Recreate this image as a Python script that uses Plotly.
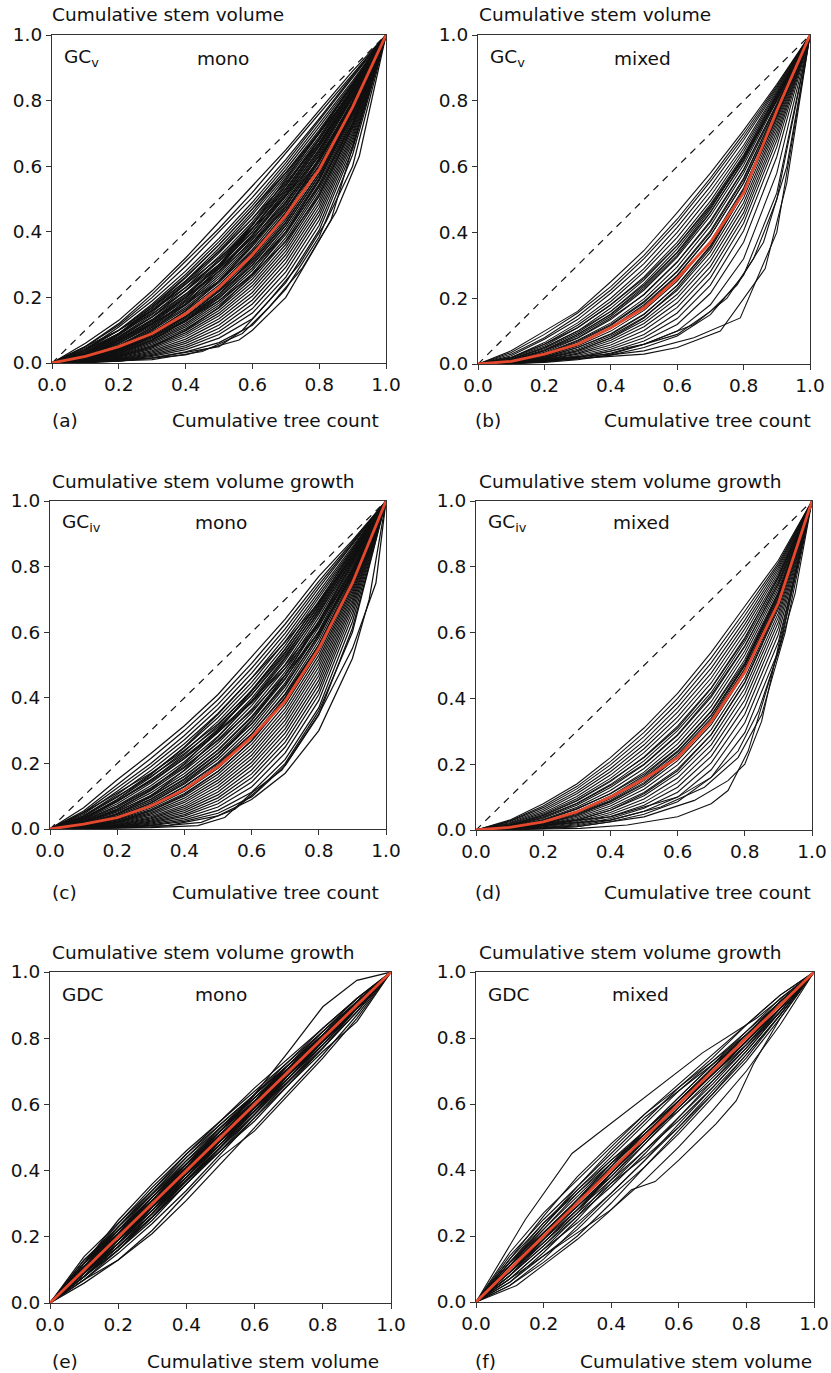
import plotly.graph_objects as go

W, H = 831, 1373

# ---------------------------------------------------------------- data
# common abscissa for the Lorenz-type curves (cumulative share)
X_GRID = [0, 0.1, 0.2, 0.3, 0.4, 0.5, 0.6, 0.7, 0.8, 0.9, 1.0]

# (a) Gini curve of stem volume, monospecific stands
GCV_MONO = [
    [0, .06, .13, .22, .32, .43, .54, .65, .77, .89, 1],
    [0, .05, .12, .21, .31, .41, .52, .64, .76, .88, 1],
    [0, .05, .115, .2, .295, .4, .505, .62, .745, .875, 1],
    [0, .04, .11, .19, .28, .38, .49, .61, .74, .87, 1],
    [0, .045, .1, .18, .27, .37, .48, .6, .73, .86, 1],
    [0, .04, .1, .175, .262, .36, .47, .59, .72, .855, 1],
    [0, .035, .09, .165, .25, .35, .46, .58, .71, .85, 1],
    [0, .03, .087, .16, .245, .342, .452, .572, .705, .848, 1],
    [0, .03, .085, .155, .24, .335, .44, .565, .70, .845, 1],
    [0, .032, .08, .148, .23, .325, .43, .555, .69, .84, 1],
    [0, .028, .078, .142, .222, .316, .423, .546, .684, .838, 1],
    [0, .025, .075, .14, .22, .31, .42, .54, .68, .835, 1],
    [0, .026, .072, .133, .21, .3, .41, .532, .672, .832, 1],
    [0, .025, .07, .13, .205, .295, .4, .525, .665, .83, 1],
    [0, .022, .066, .126, .198, .287, .392, .515, .66, .826, 1],
    [0, .02, .065, .122, .193, .28, .385, .508, .652, .82, 1],
    [0, .022, .061, .117, .186, .272, .376, .5, .645, .815, 1],
    [0, .02, .06, .113, .18, .265, .368, .492, .64, .812, 1],
    [0, .018, .055, .108, .176, .258, .362, .486, .634, .808, 1],
    [0, .016, .052, .104, .17, .25, .355, .476, .625, .8, 1],
    [0, .015, .05, .1, .165, .245, .346, .468, .618, .797, 1],
    [0, .015, .048, .095, .158, .238, .338, .46, .612, .793, 1],
    [0, .013, .046, .092, .152, .23, .33, .452, .604, .788, 1],
    [0, .012, .043, .088, .147, .224, .322, .444, .596, .784, 1],
    [0, .012, .04, .085, .142, .218, .315, .437, .59, .78, 1],
    [0, .011, .038, .081, .136, .21, .306, .427, .58, .775, 1],
    [0, .01, .036, .077, .131, .204, .298, .419, .572, .77, 1],
    [0, .01, .034, .074, .126, .197, .29, .41, .563, .765, 1],
    [0, .009, .031, .07, .12, .19, .282, .4, .555, .76, 1],
    [0, .008, .029, .066, .115, .183, .273, .392, .546, .754, 1],
    [0, .008, .027, .062, .11, .176, .264, .382, .537, .748, 1],
    [0, .007, .025, .058, .104, .168, .256, .373, .528, .742, 1],
    [0, .006, .023, .054, .098, .16, .246, .362, .518, .735, 1],
    [0, .006, .021, .05, .092, .152, .236, .352, .508, .728, 1],
    [0, .005, .019, .046, .086, .144, .226, .341, .497, .72, 1],
    [0, .004, .017, .042, .08, .135, .215, .33, .486, .712, 1],
    [0, .004, .015, .038, .073, .126, .204, .318, .474, .703, 1],
    [0, .003, .013, .034, .066, .116, .192, .305, .462, .694, 1],
    [0, .003, .012, .03, .06, .106, .18, .292, .45, .685, 1],
    [0, .002, .01, .026, .053, .096, .166, .278, .436, .675, 1],
    [0, .002, .009, .023, .047, .087, .152, .262, .42, .664, 1],
    [0, .002, .008, .02, .041, .076, .135, .245, .405, .652, 1],
    [0, .001, .006, .016, .034, .062, .115, .225, .385, .635, 1],
    [0, .05, .1, .16, .23, .31, .41, .53, .67, .83, 1],
    [0, .04, .09, .15, .22, .3, .4, .52, .66, .82, 1],
    [0, .01, .04, .1, .18, .28, .39, .51, .65, .81, 1],
    [0, .015, .05, .11, .19, .29, .41, .54, .68, .84, 1],
    [0, .03, .08, .14, .21, .29, .38, .49, .62, .78, 1],
    [0, .02, .07, .13, .2, .28, .37, .47, .6, .77, 1],
    [0, .01, .03, .07, .13, .21, .32, .46, .62, .8, 1],
    [0, .02, .06, .12, .2, .3, .42, .56, .7, .85, 1],
    [0, .03, .09, .17, .26, .36, .47, .58, .7, .83, 1],
    [0, .025, .07, .12, .18, .25, .34, .45, .59, .77, 1],
    [0, .015, .045, .09, .16, .25, .36, .48, .62, .79, 1],
    [0, .035, .09, .16, .24, .32, .41, .51, .63, .79, 1],
    [0, .02, .05, .09, .14, .21, .3, .42, .57, .77, 1],
    [0, .01, .035, .08, .14, .22, .31, .43, .58, .78, 1],
    [0, .04, .1, .17, .25, .34, .44, .55, .67, .81, 1],
    [0, .008, .03, .07, .13, .2, .29, .4, .54, .73, 1],
    [0, .012, .04, .08, .13, .19, .27, .37, .51, .72, 1],
    [0, .005, .02, .05, .1, .17, .27, .4, .56, .76, 1],
]
GCV_MONO_EXTRA = [
    ([0, .2, .4, .56, .6, .7, .775, .835, 1], [0, .006, .025, .07, .1, .2, .33, .435, 1]),
    ([0, .3, .45, .57, .65, .75, .85, .92, 1], [0, .01, .035, .09, .17, .29, .46, .63, 1]),
    ([0, .3, .5, .57, .65, .74, .82, .9, 1], [0, .015, .05, .1, .19, .3, .43, .6, 1]),
]
GCV_MONO_MEAN = [0, .02, .05, .09, .15, .23, .33, .45, .59, .78, 1]

# (b) Gini curve of stem volume, mixed stands
GCV_MIXED = [
    [0, .04, .1, .16, .25, .345, .46, .58, .71, .85, 1],
    [0, .035, .09, .155, .235, .33, .44, .565, .7, .845, 1],
    [0, .03, .08, .145, .225, .32, .43, .555, .69, .84, 1],
    [0, .025, .075, .135, .215, .305, .415, .54, .68, .835, 1],
    [0, .02, .065, .125, .2, .29, .4, .525, .665, .83, 1],
    [0, .02, .06, .118, .19, .28, .385, .51, .655, .825, 1],
    [0, .018, .055, .11, .18, .265, .37, .495, .645, .82, 1],
    [0, .015, .05, .1, .17, .255, .36, .485, .635, .815, 1],
    [0, .014, .047, .095, .16, .245, .35, .475, .625, .81, 1],
    [0, .012, .043, .09, .152, .235, .338, .462, .615, .805, 1],
    [0, .01, .04, .085, .145, .225, .325, .45, .605, .8, 1],
    [0, .01, .036, .078, .135, .212, .31, .435, .592, .79, 1],
    [0, .009, .033, .072, .125, .198, .295, .42, .58, .785, 1],
    [0, .008, .03, .066, .117, .187, .282, .405, .565, .778, 1],
    [0, .007, .027, .06, .108, .175, .268, .39, .55, .77, 1],
    [0, .006, .024, .055, .1, .163, .252, .372, .535, .76, 1],
    [0, .005, .021, .05, .092, .152, .238, .356, .52, .75, 1],
    [0, .005, .019, .045, .085, .142, .224, .34, .505, .74, 1],
    [0, .004, .017, .041, .078, .132, .212, .326, .49, .73, 1],
    [0, .004, .015, .037, .072, .123, .2, .312, .476, .72, 1],
    [0, .003, .013, .033, .065, .113, .186, .296, .46, .708, 1],
    [0, .003, .012, .03, .058, .102, .172, .28, .445, .695, 1],
    [0, .002, .01, .026, .051, .09, .155, .262, .428, .68, 1],
    [0, .002, .009, .022, .045, .08, .138, .24, .405, .66, 1],
    [0, .002, .008, .019, .039, .07, .12, .215, .37, .63, 1],
    [0, .001, .006, .016, .033, .06, .1, .18, .32, .58, 1],
    [0, .001, .005, .013, .027, .05, .085, .15, .27, .52, 1],
    [0, .02, .06, .11, .18, .26, .36, .48, .63, .8, 1],
    [0, .01, .04, .08, .14, .21, .31, .43, .59, .79, 1],
    [0, .012, .04, .09, .15, .23, .33, .46, .62, .81, 1],
    [0, .005, .02, .05, .09, .15, .24, .36, .53, .76, 1],
    [0, .008, .03, .07, .12, .19, .28, .4, .56, .78, 1],
    [0, .003, .015, .04, .08, .14, .23, .35, .52, .75, 1],
    [0, .015, .05, .1, .16, .24, .34, .47, .63, .82, 1],
    [0, .006, .025, .06, .11, .18, .27, .39, .55, .77, 1],
]
GCV_MIXED_EXTRA = [
    ([0, .31, .5, .6, .73, .865, .93, 1], [0, .017, .03, .05, .1, .29, .55, 1]),
    ([0, .3, .5, .65, .79, .9, 1], [0, .015, .04, .08, .14, .4, 1]),
    ([0, .3, .5, .65, .75, .83, .9, 1], [0, .02, .06, .12, .2, .32, .5, 1]),
    ([0, .4, .6, .7, .78, .86, .93, 1], [0, .03, .09, .16, .24, .37, .6, 1]),
]
GCV_MIXED_MEAN = [0, .008, .03, .06, .11, .17, .26, .37, .52, .77, 1]

# (c) Gini curve of stem volume growth, monospecific stands
GCIV_MONO = [
    [0, .065, .15, .23, .315, .41, .525, .64, .77, .88, 1],
    [0, .055, .135, .215, .3, .395, .505, .625, .755, .875, 1],
    [0, .05, .125, .2, .285, .38, .49, .61, .745, .87, 1],
    [0, .045, .115, .19, .272, .366, .475, .597, .735, .866, 1],
    [0, .04, .105, .178, .26, .352, .46, .584, .724, .86, 1],
    [0, .037, .097, .168, .248, .34, .447, .572, .714, .855, 1],
    [0, .033, .09, .158, .237, .328, .435, .56, .705, .85, 1],
    [0, .03, .083, .149, .226, .316, .423, .548, .695, .845, 1],
    [0, .028, .077, .14, .215, .305, .41, .536, .685, .84, 1],
    [0, .025, .071, .132, .205, .294, .398, .524, .675, .835, 1],
    [0, .023, .066, .124, .196, .283, .387, .513, .665, .83, 1],
    [0, .021, .061, .117, .187, .272, .376, .502, .655, .825, 1],
    [0, .019, .057, .11, .178, .262, .365, .49, .645, .82, 1],
    [0, .017, .052, .103, .169, .252, .354, .479, .635, .815, 1],
    [0, .016, .048, .097, .161, .242, .343, .468, .625, .81, 1],
    [0, .014, .045, .091, .153, .232, .332, .457, .615, .804, 1],
    [0, .013, .041, .085, .145, .222, .321, .446, .604, .798, 1],
    [0, .012, .038, .079, .137, .212, .31, .435, .594, .792, 1],
    [0, .011, .035, .074, .129, .203, .3, .424, .584, .786, 1],
    [0, .01, .032, .069, .122, .194, .289, .413, .573, .78, 1],
    [0, .009, .029, .064, .115, .185, .279, .402, .562, .773, 1],
    [0, .008, .027, .059, .108, .176, .268, .391, .552, .766, 1],
    [0, .007, .024, .055, .101, .167, .258, .38, .541, .759, 1],
    [0, .006, .022, .05, .094, .158, .247, .368, .53, .752, 1],
    [0, .006, .02, .046, .087, .149, .236, .356, .518, .744, 1],
    [0, .005, .018, .042, .081, .14, .225, .344, .506, .736, 1],
    [0, .004, .016, .038, .074, .131, .214, .332, .494, .728, 1],
    [0, .004, .014, .034, .068, .122, .203, .319, .481, .719, 1],
    [0, .003, .012, .031, .062, .113, .192, .306, .468, .71, 1],
    [0, .003, .011, .027, .056, .104, .18, .293, .454, .7, 1],
    [0, .002, .009, .024, .05, .095, .168, .279, .44, .69, 1],
    [0, .002, .008, .021, .044, .086, .156, .265, .425, .678, 1],
    [0, .002, .007, .018, .039, .077, .143, .25, .41, .665, 1],
    [0, .001, .006, .015, .033, .067, .128, .232, .392, .65, 1],
    [0, .001, .005, .012, .028, .057, .112, .212, .37, .632, 1],
    [0, .001, .004, .01, .023, .048, .098, .193, .348, .612, 1],
    [0, .05, .11, .17, .24, .32, .42, .54, .68, .84, 1],
    [0, .04, .1, .16, .23, .31, .41, .53, .67, .83, 1],
    [0, .012, .045, .1, .18, .28, .39, .52, .66, .82, 1],
    [0, .02, .06, .12, .2, .3, .42, .55, .69, .85, 1],
    [0, .035, .085, .145, .215, .295, .385, .49, .62, .79, 1],
    [0, .025, .07, .125, .19, .27, .36, .47, .6, .77, 1],
    [0, .01, .035, .08, .14, .22, .33, .47, .63, .81, 1],
    [0, .03, .09, .165, .25, .35, .46, .57, .69, .83, 1],
    [0, .02, .055, .1, .16, .24, .34, .46, .6, .78, 1],
    [0, .03, .085, .15, .22, .3, .39, .5, .63, .79, 1],
    [0, .015, .045, .09, .15, .23, .32, .44, .59, .78, 1],
    [0, .008, .03, .07, .13, .2, .29, .41, .56, .75, 1],
    [0, .006, .022, .055, .105, .175, .27, .4, .56, .76, 1],
]
GCIV_MONO_EXTRA = [
    ([0, .3, .44, .52, .6, .69, .8, .9, .97, 1], [0, .004, .01, .035, .11, .18, .35, .55, .75, 1]),
    ([0, .3, .45, .55, .62, .7, .8, .9, 1], [0, .006, .02, .06, .12, .2, .36, .6, 1]),
    ([0, .35, .5, .6, .7, .8, .9, .95, 1], [0, .01, .04, .09, .17, .3, .52, .7, 1]),
]
GCIV_MONO_MEAN = [0, .015, .035, .07, .12, .19, .28, .39, .55, .75, 1]

# (d) Gini curve of stem volume growth, mixed stands
GCIV_MIXED = [
    [0, .03, .08, .14, .22, .31, .415, .54, .68, .82, 1],
    [0, .027, .073, .132, .208, .297, .4, .523, .665, .812, 1],
    [0, .025, .068, .125, .198, .284, .386, .508, .652, .805, 1],
    [0, .022, .062, .117, .187, .271, .372, .492, .638, .798, 1],
    [0, .02, .057, .11, .177, .259, .358, .477, .625, .79, 1],
    [0, .018, .052, .102, .167, .247, .344, .462, .612, .782, 1],
    [0, .016, .048, .095, .157, .235, .33, .447, .598, .774, 1],
    [0, .014, .043, .088, .147, .222, .316, .432, .585, .766, 1],
    [0, .013, .04, .081, .138, .21, .302, .418, .572, .758, 1],
    [0, .011, .036, .075, .129, .198, .288, .404, .558, .75, 1],
    [0, .01, .032, .069, .12, .187, .275, .39, .545, .742, 1],
    [0, .009, .029, .063, .111, .176, .262, .376, .532, .733, 1],
    [0, .008, .026, .057, .103, .165, .249, .362, .518, .724, 1],
    [0, .007, .023, .052, .095, .155, .237, .348, .505, .715, 1],
    [0, .006, .02, .047, .087, .144, .224, .334, .491, .705, 1],
    [0, .005, .018, .042, .08, .134, .211, .32, .477, .695, 1],
    [0, .004, .016, .038, .073, .124, .198, .305, .462, .684, 1],
    [0, .004, .014, .034, .066, .114, .185, .29, .447, .672, 1],
    [0, .003, .012, .03, .06, .104, .172, .275, .431, .66, 1],
    [0, .003, .01, .026, .053, .094, .158, .259, .414, .647, 1],
    [0, .002, .009, .022, .047, .084, .144, .242, .395, .632, 1],
    [0, .002, .007, .019, .041, .075, .13, .224, .375, .615, 1],
    [0, .001, .006, .016, .035, .066, .115, .204, .352, .595, 1],
    [0, .001, .005, .013, .03, .057, .1, .183, .326, .572, 1],
    [0, .001, .004, .01, .025, .048, .086, .16, .296, .545, 1],
    [0, .015, .045, .09, .15, .22, .31, .43, .58, .77, 1],
    [0, .01, .03, .065, .11, .17, .25, .36, .51, .72, 1],
    [0, .008, .025, .055, .1, .16, .24, .35, .5, .71, 1],
    [0, .005, .018, .045, .085, .14, .22, .33, .49, .7, 1],
    [0, .012, .038, .08, .135, .2, .29, .41, .56, .75, 1],
    [0, .003, .012, .03, .06, .11, .18, .29, .45, .68, 1],
    [0, .006, .022, .05, .09, .15, .23, .34, .5, .72, 1],
]
GCIV_MIXED_EXTRA = [
    ([0, .31, .45, .6, .7, .75, .81, .86, .91, 1], [0, .005, .015, .04, .08, .12, .24, .41, .58, 1]),
    ([0, .3, .5, .65, .75, .8, .85, .9, 1], [0, .01, .04, .09, .15, .2, .33, .56, 1]),
    ([0, .4, .55, .68, .78, .85, .92, 1], [0, .03, .07, .13, .22, .35, .6, 1]),
    ([0, .4, .6, .7, .78, .84, .9, .95, 1], [0, .04, .1, .16, .24, .36, .54, .72, 1]),
]
GCIV_MIXED_MEAN = [0, .008, .025, .055, .1, .155, .22, .33, .48, .69, 1]

# (e) growth dominance curves, monospecific stands
GDC_MONO = [
    [0, .13, .23, .33, .44, .53, .63, .72, .82, .92, 1],
    [0, .12, .22, .32, .42, .52, .62, .71, .81, .91, 1],
    [0, .09, .18, .27, .37, .47, .57, .68, .78, .89, 1],
    [0, .08, .17, .27, .38, .48, .58, .67, .77, .88, 1],
    [0, .11, .21, .31, .41, .51, .61, .71, .8, .9, 1],
    [0, .1, .19, .29, .39, .49, .59, .69, .79, .89, 1],
    [0, .07, .15, .24, .34, .45, .56, .66, .77, .88, 1],
    [0, .12, .24, .35, .45, .55, .64, .73, .82, .91, 1],
    [0, .1, .2, .29, .4, .51, .6, .69, .79, .9, 1],
    [0, .08, .16, .25, .36, .47, .59, .7, .8, .9, 1],
    [0, .11, .2, .3, .41, .52, .62, .72, .81, .9, 1],
    [0, .09, .19, .3, .4, .49, .58, .68, .79, .9, 1],
    [0, .1, .21, .32, .42, .51, .6, .7, .8, .91, 1],
    [0, .09, .18, .28, .39, .5, .61, .71, .81, .9, 1],
    [0, .13, .22, .31, .4, .5, .61, .72, .82, .91, 1],
    [0, .07, .16, .26, .37, .47, .57, .67, .77, .89, 1],
    [0, .11, .22, .31, .39, .49, .6, .7, .79, .89, 1],
    [0, .09, .2, .31, .41, .5, .6, .7, .81, .91, 1],
    [0, .1, .18, .27, .38, .49, .59, .68, .78, .89, 1],
    [0, .12, .21, .3, .41, .52, .63, .73, .83, .92, 1],
    [0, .08, .18, .29, .4, .5, .59, .69, .8, .91, 1],
    [0, .1, .21, .31, .4, .49, .58, .69, .8, .9, 1],
    [0, .11, .19, .28, .38, .48, .58, .69, .8, .9, 1],
    [0, .09, .19, .29, .38, .49, .6, .71, .8, .89, 1],
    [0, .1, .2, .3, .41, .52, .61, .7, .79, .9, 1],
    [0, .08, .17, .26, .36, .46, .56, .67, .78, .89, 1],
    [0, .12, .23, .33, .42, .52, .61, .7, .8, .9, 1],
    [0, .1, .19, .28, .37, .47, .58, .69, .79, .89, 1],
    [0, .11, .21, .32, .43, .53, .62, .71, .81, .91, 1],
    [0, .09, .2, .3, .39, .48, .59, .7, .81, .9, 1],
    [0, .1, .2, .3, .41, .52, .63, .76, .895, .975, 1],
    [0, .08, .17, .27, .37, .46, .55, .66, .76, .85, 1],
    [0, .06, .13, .22, .33, .44, .52, .63, .74, .86, 1],
    [0, .14, .24, .34, .45, .54, .63, .72, .81, .9, 1],
    [0, .07, .13, .21, .31, .42, .53, .64, .75, .87, 1],
    [0, .12, .25, .36, .46, .55, .65, .74, .83, .92, 1],
    [0, .1, .21, .31, .41, .5, .6, .7, .8, .9, 1],
    [0, .11, .2, .3, .4, .5, .61, .71, .81, .9, 1],
    [0, .09, .2, .3, .4, .51, .6, .69, .79, .9, 1],
    [0, .1, .19, .3, .41, .5, .59, .7, .81, .91, 1],
    [0, .1, .2, .31, .4, .49, .6, .71, .8, .89, 1],
    [0, .11, .21, .3, .39, .49, .59, .69, .8, .9, 1],
    [0, .09, .19, .29, .4, .51, .61, .7, .79, .89, 1],
    [0, .1, .2, .29, .39, .5, .61, .71, .8, .9, 1],
    [0, .11, .22, .32, .41, .5, .59, .69, .79, .9, 1],
    [0, .09, .18, .29, .39, .49, .6, .7, .8, .91, 1],
    [0, .1, .21, .3, .39, .48, .59, .7, .8, .9, 1],
    [0, .12, .22, .31, .41, .51, .6, .7, .79, .89, 1],
    [0, .08, .18, .28, .39, .5, .6, .7, .81, .9, 1],
    [0, .1, .2, .3, .42, .53, .62, .71, .8, .9, 1],
    [0, .11, .2, .29, .38, .48, .58, .68, .79, .9, 1],
    [0, .09, .2, .31, .42, .51, .6, .69, .8, .91, 1],
    [0, .1, .22, .33, .43, .52, .61, .71, .81, .91, 1],
    [0, .09, .17, .26, .37, .48, .58, .69, .8, .9, 1],
    [0, .11, .23, .34, .44, .54, .63, .72, .81, .9, 1],
    [0, .08, .16, .26, .36, .46, .57, .68, .79, .9, 1],
]
GDC_MONO_EXTRA = []

# (f) growth dominance curves, mixed stands
GDC_MIXED = [
    [0, .15, .27, .37, .47, .57, .66, .75, .84, .93, 1],
    [0, .14, .25, .35, .45, .55, .65, .74, .84, .93, 1],
    [0, .12, .23, .34, .44, .54, .64, .73, .82, .92, 1],
    [0, .13, .24, .33, .43, .52, .62, .72, .82, .91, 1],
    [0, .11, .22, .32, .42, .52, .61, .71, .81, .91, 1],
    [0, .1, .21, .31, .41, .51, .61, .71, .8, .9, 1],
    [0, .12, .21, .3, .4, .5, .6, .7, .8, .91, 1],
    [0, .09, .19, .29, .39, .5, .6, .7, .8, .9, 1],
    [0, .1, .2, .29, .38, .48, .59, .69, .79, .9, 1],
    [0, .08, .18, .28, .38, .49, .59, .69, .79, .89, 1],
    [0, .09, .2, .31, .42, .51, .6, .69, .78, .88, 1],
    [0, .07, .16, .26, .37, .48, .58, .68, .78, .89, 1],
    [0, .08, .17, .26, .35, .45, .56, .67, .78, .89, 1],
    [0, .06, .15, .25, .36, .46, .56, .66, .77, .88, 1],
    [0, .07, .16, .24, .33, .43, .54, .65, .76, .88, 1],
    [0, .05, .13, .23, .33, .43, .53, .64, .75, .87, 1],
    [0, .06, .14, .22, .32, .41, .52, .63, .75, .87, 1],
    [0, .05, .12, .2, .3, .41, .51, .62, .73, .86, 1],
    [0, .11, .23, .35, .46, .56, .64, .72, .8, .9, 1],
    [0, .13, .26, .38, .48, .57, .65, .73, .81, .9, 1],
    [0, .1, .19, .28, .37, .46, .55, .65, .76, .88, 1],
    [0, .12, .22, .33, .42, .5, .58, .67, .77, .89, 1],
    [0, .09, .18, .27, .36, .44, .53, .63, .74, .87, 1],
    [0, .08, .19, .3, .41, .52, .62, .72, .81, .9, 1],
    [0, .11, .2, .29, .39, .49, .6, .71, .81, .91, 1],
    [0, .07, .14, .21, .28, .37, .47, .58, .7, .84, 1],
    [0, .1, .21, .3, .4, .49, .59, .69, .79, .9, 1],
    [0, .09, .19, .3, .41, .51, .6, .7, .8, .9, 1],
    [0, .11, .21, .31, .4, .5, .6, .7, .8, .91, 1],
    [0, .1, .2, .31, .42, .52, .61, .7, .79, .89, 1],
    [0, .09, .18, .28, .39, .5, .61, .71, .81, .91, 1],
    [0, .12, .24, .34, .43, .51, .6, .7, .8, .9, 1],
    [0, .08, .17, .27, .39, .5, .6, .69, .79, .9, 1],
]
GDC_MIXED_EXTRA = [
    ([0, .146, .284, .41, .51, .67, .83, 1], [0, .25, .45, .55, .63, .755, .86, 1]),
    ([0, .12, .21, .3, .39, .46, .53, .6, .71, .77, .82, .9, 1],
     [0, .05, .12, .19, .27, .34, .365, .43, .54, .61, .72, .86, 1]),
]
EQUALITY = [0, 1]

# ---------------------------------------------------------------- panels
# pixel boxes of the six plot areas: left, right, top, bottom
PANELS = [
    dict(box=(52, 386, 35, 363), curves=GCV_MONO, extra=GCV_MONO_EXTRA,
         mean=(X_GRID, GCV_MONO_MEAN), diag=True, lw=1.25),
    dict(box=(478, 810, 35, 364), curves=GCV_MIXED, extra=GCV_MIXED_EXTRA,
         mean=(X_GRID, GCV_MIXED_MEAN), diag=True, lw=1.1),
    dict(box=(50, 386, 501, 829), curves=GCIV_MONO, extra=GCIV_MONO_EXTRA,
         mean=(X_GRID, GCIV_MONO_MEAN), diag=True, lw=1.25),
    dict(box=(476, 812, 501, 830), curves=GCIV_MIXED, extra=GCIV_MIXED_EXTRA,
         mean=(X_GRID, GCIV_MIXED_MEAN), diag=True, lw=1.1),
    dict(box=(50, 391, 972, 1303), curves=GDC_MONO, extra=GDC_MONO_EXTRA,
         mean=(EQUALITY, EQUALITY), diag=False, lw=1.25),
    dict(box=(476, 814, 972, 1302), curves=GDC_MIXED, extra=GDC_MIXED_EXTRA,
         mean=(EQUALITY, EQUALITY), diag=False, lw=1.1),
]

FONT = "DejaVu Sans, Liberation Sans, Arial"
FS = 18.5
INK = "#111111"
RED = "#e5482c"

fig = go.Figure()
layout = {}

for i, p in enumerate(PANELS, start=1):
    xa = "x" if i == 1 else f"x{i}"
    ya = "y" if i == 1 else f"y{i}"
    # all individual stand curves as one trace separated by gaps
    xs, ys = [], []
    for c in p["curves"]:
        xs += X_GRID + [None]
        ys += c + [None]
    for ex, ey in p["extra"]:
        xs += ex + [None]
        ys += ey + [None]
    fig.add_trace(go.Scatter(x=xs, y=ys, mode="lines", xaxis=xa, yaxis=ya,
                             line=dict(color=INK, width=p["lw"]),
                             hoverinfo="skip", showlegend=False))
    if p["diag"]:
        fig.add_trace(go.Scatter(x=EQUALITY, y=EQUALITY, mode="lines",
                                 xaxis=xa, yaxis=ya,
                                 line=dict(color=INK, width=1.2, dash="7px,6px"),
                                 hoverinfo="skip", showlegend=False))
    mx, my = p["mean"]
    fig.add_trace(go.Scatter(x=mx, y=my, mode="lines", xaxis=xa, yaxis=ya,
                             line=dict(color=RED, width=2.8),
                             hoverinfo="skip", showlegend=False))

    l, r, t, b = p["box"]
    common = dict(range=[0, 1], showgrid=False, zeroline=False, showline=True,
                  mirror=True, linecolor="#333", linewidth=1.2,
                  ticks="outside", ticklen=5, tickcolor="#333", tickwidth=1,
                  tickvals=[0, .2, .4, .6, .8, 1.0], tickformat=".1f",
                  automargin=False,
                  tickfont=dict(family=FONT, size=FS, color=INK))
    layout["xaxis" if i == 1 else f"xaxis{i}"] = dict(
        domain=[l / W, r / W], anchor=ya, **common)
    layout["yaxis" if i == 1 else f"yaxis{i}"] = dict(
        domain=[1 - b / H, 1 - t / H], anchor=xa, **common)


def label(text, px, py, anchor="left"):
    return dict(text=text, x=px / W, y=1 - py / H, xref="paper", yref="paper",
                xanchor=anchor, yanchor="middle", showarrow=False,
                font=dict(family=FONT, size=FS, color=INK))


ann = [
    label("Cumulative stem volume", 50, 15),
    label("Cumulative stem volume", 477, 15),
    label("Cumulative stem volume growth", 50, 482),
    label("Cumulative stem volume growth", 477, 482),
    label("Cumulative stem volume growth", 50, 952),
    label("Cumulative stem volume growth", 477, 952),
    label("(a)", 50, 420), label("(b)", 473, 420),
    label("(c)", 50, 892), label("(d)", 473, 892),
    label("(e)", 50, 1361), label("(f)", 473, 1361),
    label("Cumulative tree count", 381, 420, "right"),
    label("Cumulative tree count", 813, 420, "right"),
    label("Cumulative tree count", 381, 892, "right"),
    label("Cumulative tree count", 813, 892, "right"),
    label("Cumulative stem volume", 381, 1361, "right"),
    label("Cumulative stem volume", 814, 1361, "right"),
    label("GC<sub>v</sub>", 62, 58), label("mono", 195, 58),
    label("GC<sub>v</sub>", 488, 58), label("mixed", 612, 58),
    label("GC<sub>iv</sub>", 60, 523), label("mono", 193, 523),
    label("GC<sub>iv</sub>", 486, 523), label("mixed", 611, 523),
    label("GDC", 60, 994), label("mono", 193, 994),
    label("GDC", 486, 994), label("mixed", 610, 994),
]

fig.update_layout(width=W, height=H,
                  margin=dict(l=0, r=0, t=0, b=0, pad=0, autoexpand=False),
                  paper_bgcolor="white", plot_bgcolor="white",
                  annotations=ann, **layout)

fig.write_html("out.html")
